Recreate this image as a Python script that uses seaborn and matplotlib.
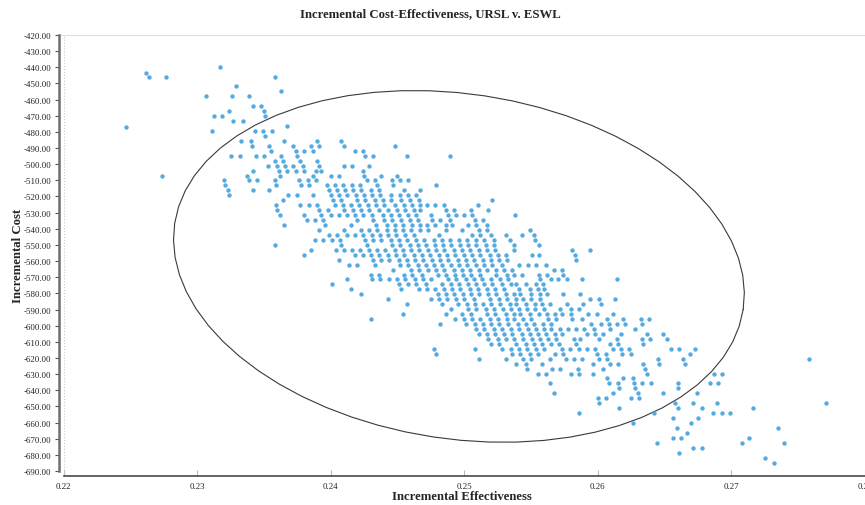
import numpy as np
import pandas as pd
import seaborn as sns
import matplotlib
matplotlib.use('Agg')
import matplotlib.pyplot as plt

OUTPUT_FILE = 'out.png'
DOT_COLOR = '#55abe0'
DOT_SIZE = 10

TITLE = 'Incremental Cost-Effectiveness, URSL v. ESWL'
X_LABEL = 'Incremental Effectiveness'
Y_LABEL = 'Incremental Cost'

# incremental cost of each row of points
cost_levels = [
    -439.6, -443.5, -446.0, -451.8, -454.9, -458.0, -464.1, -467.2, -470.2, -473.3,
    -476.3, -477.2, -479.4, -482.5, -485.6, -488.7, -491.7, -494.8, -497.8, -500.9,
    -504.0, -507.1, -510.1, -513.2, -516.2, -519.3, -522.4, -525.4, -528.5, -531.6,
    -534.6, -537.7, -540.7, -543.8, -546.9, -550.0, -553.0, -556.1, -559.1, -562.2,
    -565.3, -568.4, -571.4, -574.5, -577.5, -580.6, -583.7, -586.7, -589.8, -592.9,
    -595.9, -599.0, -602.0, -605.1, -608.2, -611.3, -614.3, -617.4, -620.4, -623.5,
    -626.6, -629.7, -632.7, -635.8, -638.8, -641.9, -645.0, -648.0, -651.1, -654.2,
    -657.2, -660.3, -663.3, -666.4, -669.5, -672.6, -675.6, -678.7, -681.7, -684.8,
]

# incremental effectiveness of the points on each of those rows
eff_by_level = [
    [0.2317],
    [0.2262],
    [0.2264, 0.2277, 0.2358],
    [0.2329],
    [0.2363],
    [0.2307, 0.2326, 0.2339],
    [0.2342, 0.2348],
    [0.2324, 0.2350],
    [0.2313, 0.2319, 0.2351],
    [0.2327, 0.2334],
    [0.2367],
    [0.2247],
    [0.2311, 0.2343, 0.2349, 0.2356],
    [0.2351],
    [0.2333, 0.2340, 0.2365, 0.2390, 0.2408],
    [0.2341, 0.2354, 0.2372, 0.2385, 0.2391, 0.2410, 0.2448],
    [0.2355, 0.2374, 0.2380, 0.2387, 0.2418, 0.2424],
    [0.2325, 0.2332, 0.2344, 0.2350, 0.2363, 0.2375, 0.2426, 0.2432, 0.2457, 0.2489],
    [0.2358, 0.2364, 0.2377, 0.2390],
    [0.2353, 0.2360, 0.2366, 0.2372, 0.2379, 0.2391, 0.2410, 0.2416, 0.2429],
    [0.2342, 0.2361, 0.2367, 0.2374, 0.2380, 0.2389, 0.2393, 0.2424],
    [0.2274, 0.2337, 0.2362, 0.2387, 0.2400, 0.2406, 0.2425, 0.2438, 0.2450],
    [0.2320, 0.2339, 0.2345, 0.2358, 0.2376, 0.2383, 0.2389, 0.2427, 0.2433, 0.2446, 0.2452, 0.2458],
    [0.2321, 0.2359, 0.2378, 0.2384, 0.2397, 0.2403, 0.2409, 0.2416, 0.2422, 0.2435, 0.2447, 0.2479],
    [0.2323, 0.2342, 0.2354, 0.2399, 0.2405, 0.2411, 0.2417, 0.2423, 0.2430, 0.2436, 0.2455, 0.2467],
    [0.2324, 0.2368, 0.2375, 0.2387, 0.2400, 0.2406, 0.2412, 0.2419, 0.2425, 0.2431, 0.2437, 0.2445,
     0.2452, 0.2458, 0.2464],
    [0.2364, 0.2402, 0.2408, 0.2420, 0.2426, 0.2433, 0.2439, 0.2445, 0.2453, 0.2459, 0.2466, 0.2521],
    [0.2359, 0.2377, 0.2384, 0.2390, 0.2403, 0.2409, 0.2415, 0.2421, 0.2428, 0.2434, 0.2440, 0.2448,
     0.2455, 0.2461, 0.2467, 0.2472, 0.2478, 0.2485, 0.2510],
    [0.2360, 0.2391, 0.2398, 0.2410, 0.2417, 0.2423, 0.2429, 0.2436, 0.2443, 0.2450, 0.2456, 0.2462,
     0.2467, 0.2486, 0.2492, 0.2505, 0.2518],
    [0.2362, 0.2380, 0.2393, 0.2400, 0.2406, 0.2412, 0.2418, 0.2424, 0.2431, 0.2439, 0.2445, 0.2451,
     0.2458, 0.2464, 0.2475, 0.2488, 0.2494, 0.2500, 0.2506, 0.2538],
    [0.2382, 0.2388, 0.2394, 0.2420, 0.2432, 0.2440, 0.2446, 0.2453, 0.2459, 0.2465, 0.2476, 0.2482,
     0.2489, 0.2508, 0.2514],
    [0.2365, 0.2396, 0.2415, 0.2434, 0.2442, 0.2448, 0.2454, 0.2461, 0.2467, 0.2472, 0.2478, 0.2486,
     0.2491, 0.2503, 0.2509, 0.2517],
    [0.2391, 0.2410, 0.2423, 0.2429, 0.2435, 0.2442, 0.2448, 0.2454, 0.2460, 0.2467, 0.2473, 0.2486,
     0.2498, 0.2511, 0.2517, 0.2549],
    [0.2399, 0.2405, 0.2412, 0.2418, 0.2424, 0.2431, 0.2437, 0.2443, 0.2449, 0.2456, 0.2462, 0.2481,
     0.2506, 0.2512, 0.2520, 0.2531, 0.2543, 0.2552],
    [0.2388, 0.2394, 0.2401, 0.2407, 0.2426, 0.2432, 0.2438, 0.2445, 0.2451, 0.2457, 0.2464, 0.2470,
     0.2477, 0.2483, 0.2489, 0.2496, 0.2502, 0.2509, 0.2515, 0.2522, 0.2534, 0.2553],
    [0.2358, 0.2408, 0.2427, 0.2446, 0.2452, 0.2459, 0.2465, 0.2471, 0.2478, 0.2484, 0.2490, 0.2497,
     0.2503, 0.2509, 0.2516, 0.2522, 0.2537, 0.2556],
    [0.2385, 0.2404, 0.2410, 0.2416, 0.2422, 0.2429, 0.2435, 0.2441, 0.2448, 0.2454, 0.2460, 0.2466,
     0.2473, 0.2479, 0.2485, 0.2492, 0.2498, 0.2504, 0.2511, 0.2517, 0.2523, 0.2537, 0.2581, 0.2594],
    [0.2380, 0.2418, 0.2424, 0.2430, 0.2436, 0.2443, 0.2449, 0.2455, 0.2462, 0.2468, 0.2474, 0.2481,
     0.2487, 0.2493, 0.2500, 0.2506, 0.2512, 0.2519, 0.2525, 0.2531, 0.2551, 0.2556, 0.2583],
    [0.2406, 0.2432, 0.2438, 0.2444, 0.2451, 0.2457, 0.2463, 0.2469, 0.2476, 0.2482, 0.2488, 0.2495,
     0.2501, 0.2507, 0.2514, 0.2520, 0.2526, 0.2532, 0.2584],
    [0.2414, 0.2420, 0.2433, 0.2452, 0.2458, 0.2465, 0.2471, 0.2477, 0.2483, 0.2490, 0.2496, 0.2502,
     0.2509, 0.2515, 0.2521, 0.2528, 0.2541, 0.2548, 0.2554, 0.2561],
    [0.2447, 0.2460, 0.2466, 0.2473, 0.2479, 0.2485, 0.2492, 0.2498, 0.2504, 0.2511, 0.2517, 0.2524,
     0.2530, 0.2536, 0.2567, 0.2573],
    [0.2430, 0.2436, 0.2455, 0.2461, 0.2468, 0.2480, 0.2486, 0.2493, 0.2499, 0.2505, 0.2512, 0.2524,
     0.2532, 0.2537, 0.2543, 0.2556, 0.2562, 0.2574],
    [0.2412, 0.2431, 0.2437, 0.2444, 0.2450, 0.2456, 0.2463, 0.2469, 0.2475, 0.2488, 0.2494, 0.2501,
     0.2507, 0.2513, 0.2520, 0.2527, 0.2533, 0.2557, 0.2565, 0.2570, 0.2577, 0.2588, 0.2614],
    [0.2401, 0.2451, 0.2458, 0.2464, 0.2471, 0.2483, 0.2490, 0.2496, 0.2503, 0.2509, 0.2515, 0.2521,
     0.2528, 0.2535, 0.2539, 0.2546, 0.2554, 0.2559],
    [0.2415, 0.2453, 0.2466, 0.2472, 0.2478, 0.2485, 0.2491, 0.2497, 0.2504, 0.2510, 0.2517, 0.2523,
     0.2530, 0.2541, 0.2549, 0.2555, 0.2560],
    [0.2423, 0.2480, 0.2486, 0.2492, 0.2499, 0.2505, 0.2511, 0.2518, 0.2524, 0.2531, 0.2537, 0.2542,
     0.2550, 0.2557, 0.2562, 0.2574, 0.2587],
    [0.2443, 0.2475, 0.2481, 0.2487, 0.2494, 0.2500, 0.2507, 0.2519, 0.2526, 0.2532, 0.2539, 0.2544,
     0.2550, 0.2557, 0.2594, 0.2601, 0.2613],
    [0.2457, 0.2483, 0.2495, 0.2502, 0.2508, 0.2514, 0.2520, 0.2527, 0.2534, 0.2539, 0.2546, 0.2553,
     0.2558, 0.2564, 0.2577, 0.2589, 0.2602],
    [0.2490, 0.2503, 0.2509, 0.2516, 0.2522, 0.2529, 0.2535, 0.2541, 0.2547, 0.2553, 0.2560, 0.2572,
     0.2580, 0.2586],
    [0.2454, 0.2486, 0.2498, 0.2505, 0.2517, 0.2523, 0.2531, 0.2537, 0.2542, 0.2549, 0.2556, 0.2562,
     0.2568, 0.2573, 0.2580, 0.2593, 0.2599, 0.2611],
    [0.2430, 0.2493, 0.2500, 0.2506, 0.2512, 0.2519, 0.2525, 0.2532, 0.2537, 0.2544, 0.2550, 0.2563,
     0.2569, 0.2581, 0.2588, 0.2607, 0.2619, 0.2632, 0.2638],
    [0.2482, 0.2501, 0.2508, 0.2514, 0.2520, 0.2526, 0.2533, 0.2540, 0.2546, 0.2552, 0.2559, 0.2565,
     0.2595, 0.2602, 0.2608, 0.2614, 0.2620, 0.2633],
    [0.2509, 0.2515, 0.2522, 0.2528, 0.2535, 0.2541, 0.2548, 0.2554, 0.2560, 0.2565, 0.2572, 0.2578,
     0.2584, 0.2590, 0.2597, 0.2609, 0.2628],
    [0.2511, 0.2517, 0.2523, 0.2530, 0.2536, 0.2543, 0.2549, 0.2555, 0.2561, 0.2568, 0.2573, 0.2592,
     0.2598, 0.2604, 0.2617, 0.2637, 0.2649],
    [0.2518, 0.2525, 0.2531, 0.2537, 0.2544, 0.2551, 0.2557, 0.2563, 0.2569, 0.2582, 0.2587, 0.2601,
     0.2614, 0.2633, 0.2639, 0.2652],
    [0.2520, 0.2526, 0.2539, 0.2546, 0.2552, 0.2558, 0.2565, 0.2571, 0.2584, 0.2609, 0.2615, 0.2634],
    [0.2477, 0.2508, 0.2528, 0.2535, 0.2541, 0.2547, 0.2554, 0.2560, 0.2573, 0.2579, 0.2586, 0.2592,
     0.2598, 0.2611, 0.2617, 0.2623, 0.2655, 0.2661, 0.2673],
    [0.2479, 0.2536, 0.2542, 0.2549, 0.2555, 0.2568, 0.2574, 0.2599, 0.2606, 0.2618, 0.2625, 0.2669],
    [0.2511, 0.2531, 0.2544, 0.2550, 0.2564, 0.2576, 0.2582, 0.2588, 0.2601, 0.2607, 0.2645, 0.2664,
     0.2758],
    [0.2539, 0.2546, 0.2558, 0.2596, 0.2609, 0.2615, 0.2634, 0.2646, 0.2665],
    [0.2547, 0.2566, 0.2572, 0.2585, 0.2604, 0.2635],
    [0.2555, 0.2561, 0.2580, 0.2586, 0.2596, 0.2637, 0.2687, 0.2693],
    [0.2607, 0.2619, 0.2626],
    [0.2564, 0.2608, 0.2615, 0.2627, 0.2633, 0.2640, 0.2660, 0.2684, 0.2690],
    [0.2616, 0.2628, 0.2660],
    [0.2567, 0.2611, 0.2630, 0.2649, 0.2674],
    [0.2600, 0.2606, 0.2625, 0.2631],
    [0.2601, 0.2658, 0.2671, 0.2689, 0.2771],
    [0.2616, 0.2660, 0.2678, 0.2716],
    [0.2586, 0.2642, 0.2686, 0.2693, 0.2699],
    [0.2656, 0.2675],
    [0.2626, 0.2670],
    [0.2659, 0.2735],
    [0.2667],
    [0.2656, 0.2662, 0.2713],
    [0.2644, 0.2708, 0.2739],
    [0.2671, 0.2678],
    [0.2661],
    [0.2725],
    [0.2732],
]

# confidence ellipse: centre and two conjugate half axes (effectiveness, cost)
ELLIPSE_CENTER = (0.2496, -563.3)
ELLIPSE_AXIS_U = (0.02128, -26.7)
ELLIPSE_AXIS_V = (-0.00194, -105.6)
ELLIPSE_SEGMENTS = 64

X_TICKS = [0.22, 0.23, 0.24, 0.25, 0.26, 0.27, 0.28]
Y_TICKS = list(range(-690, -419, 10))

rows = []
for cost, effs in zip(cost_levels, eff_by_level):
    for e in effs:
        rows.append((e, cost))
data = pd.DataFrame(rows, columns=['eff', 'cost'])

sns.set_style('white')
plt.rcParams['font.family'] = ['Liberation Serif', 'DejaVu Serif']
plt.rcParams['axes.unicode_minus'] = False

fig = plt.figure(figsize=(8.65, 5.06), dpi=100)
ax = fig.add_axes([59 / 865, 29 / 506, 806 / 865, 441 / 506])

g = sns.scatterplot(data=data, x='eff', y='cost', color=DOT_COLOR, s=DOT_SIZE,
                    linewidth=0, legend=False, ax=ax, zorder=3)

t = np.linspace(0, 2 * np.pi, ELLIPSE_SEGMENTS + 1)
ex = ELLIPSE_CENTER[0] + ELLIPSE_AXIS_U[0] * np.cos(t) + ELLIPSE_AXIS_V[0] * np.sin(t)
ey = ELLIPSE_CENTER[1] + ELLIPSE_AXIS_U[1] * np.cos(t) + ELLIPSE_AXIS_V[1] * np.sin(t)
ax.plot(ex, ey, color='#3a3a3a', lw=0.8, zorder=2)

ax.set_xlim(0.21966, 0.28)
ax.set_ylim(-693.1, -420)
ax.set_xticks(X_TICKS)
ax.set_xticklabels(['%.2f' % v for v in X_TICKS])
ax.set_yticks(Y_TICKS)
ax.set_yticklabels(['%.2f' % v for v in Y_TICKS])

ax.axvline(0.22, color='#c8c8c8', lw=0.8, ls=':', zorder=1)

for side in ['top', 'right']:
    ax.spines[side].set_visible(False)
ax.axhline(-420, color='#d9d9d9', lw=1.2, zorder=1)
ax.spines['left'].set_bounds(-690, -420)
ax.spines['left'].set_color('#6e6e6e')
ax.spines['left'].set_linewidth(1.8)
ax.spines['bottom'].set_bounds(0.22, 0.28)
ax.spines['bottom'].set_color('#4a4a4a')
ax.spines['bottom'].set_linewidth(1.2)

ax.tick_params(axis='y', direction='out', length=3, width=0.8, color='#555555',
               labelsize=6.4, pad=2.5, labelcolor='#222222', left=True)
ax.tick_params(axis='x', direction='in', length=4, width=0.8, color='#bbbbbb',
               labelsize=6.4, pad=4, labelcolor='#222222', bottom=True)

g.set_xlabel('')
g.set_ylabel('')
fig.text(0.498, 0.972, TITLE, ha='center', va='center', fontsize=9.2, fontweight='bold')
fig.text(0.534, 0.018, X_LABEL, ha='center', va='center', fontsize=9.2, fontweight='bold')
fig.text(0.021, 0.494, Y_LABEL, ha='center', va='center', rotation=90, fontsize=9.2,
         fontweight='bold')

fig.savefig(OUTPUT_FILE, dpi=100)
